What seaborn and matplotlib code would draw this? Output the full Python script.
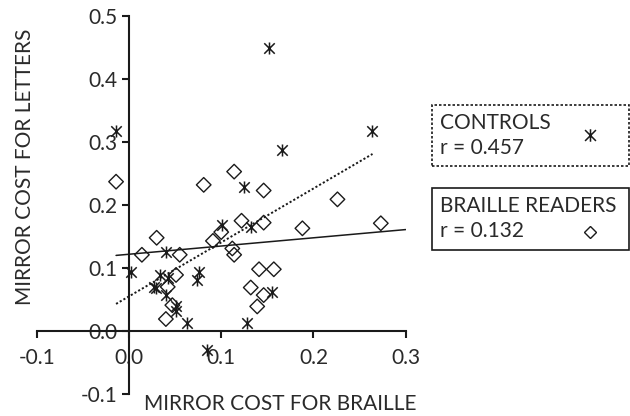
import numpy as np
import matplotlib
matplotlib.use("Agg")
import matplotlib.pyplot as plt
from matplotlib.path import Path
from matplotlib.patches import Rectangle
from matplotlib.lines import Line2D
import seaborn as sns
import pandas as pd

# DATA
ctrl_x = [0.152, -0.014, 0.263, 0.166, 0.125, 0.101, 0.132, 0.040, 0.002, 0.076,
          0.074, 0.034, 0.042, 0.027, 0.029, 0.040, 0.051, 0.051, 0.063, 0.128,
          0.155, 0.085]
ctrl_y = [0.450, 0.317, 0.317, 0.287, 0.229, 0.168, 0.165, 0.126, 0.094, 0.094,
          0.081, 0.089, 0.084, 0.070, 0.068, 0.057, 0.039, 0.031, 0.013, 0.013,
          0.062, -0.030]

braille_x = [-0.014, 0.014, 0.030, 0.055, 0.051, 0.042, 0.047, 0.040, 0.081, 0.091,
             0.100, 0.114, 0.112, 0.114, 0.122, 0.146, 0.146, 0.141, 0.157, 0.132,
             0.146, 0.139, 0.188, 0.226, 0.273]
braille_y = [0.237, 0.121, 0.148, 0.121, 0.089, 0.070, 0.041, 0.019, 0.232, 0.143,
             0.157, 0.253, 0.131, 0.121, 0.175, 0.223, 0.172, 0.098, 0.098, 0.069,
             0.057, 0.039, 0.163, 0.209, 0.171]

# fitted lines (end points)
ctrl_fit_x = [-0.014, 0.264]
ctrl_fit_y = [0.043, 0.281]
braille_fit_x = [-0.014, 0.300]
braille_fit_y = [0.120, 0.161]

ctrl_lines = ["CONTROLS", "r = 0.457"]
braille_lines = ["BRAILLE READERS", "r = 0.132"]
x_ticks = [-0.1, 0.0, 0.1, 0.2, 0.3]
y_ticks = [-0.1, 0.0, 0.1, 0.2, 0.3, 0.4, 0.5]

# STYLE
sns.set_theme(style="white")
plt.rcParams["font.family"] = ["Lato", "DejaVu Sans"]
INK = "#1a1a1a"
TXT = "#2a2a2a"
FS = 15

# asterisk marker: an X with a vertical bar
star = Path([(-1, -1), (1, 1), (-1, 1), (1, -1), (0, -1.15), (0, 1.15)],
            [Path.MOVETO, Path.LINETO, Path.MOVETO, Path.LINETO, Path.MOVETO, Path.LINETO])

W, H = 630, 416
fig = plt.figure(figsize=(W / 100, H / 100), dpi=100)
ax = fig.add_axes([0.0583, 0.0529, 0.5857, 0.9086])

df_c = pd.DataFrame({"x": ctrl_x, "y": ctrl_y})
df_b = pd.DataFrame({"x": braille_x, "y": braille_y})

sns.lineplot(x=ctrl_fit_x, y=ctrl_fit_y, ax=ax, color=INK, linestyle=(0, (1.1, 1.1)), lw=1.4)
sns.lineplot(x=braille_fit_x, y=braille_fit_y, ax=ax, color=INK, lw=1.1)

sns.scatterplot(data=df_b, x="x", y="y", ax=ax, marker="D", s=55,
                facecolor="none", edgecolor=INK, linewidth=1.0, zorder=3)
sns.scatterplot(data=df_c, x="x", y="y", ax=ax, marker=star, s=75,
                color=INK, edgecolor=INK, linewidth=1.1, zorder=3)

ax.set_xlim(-0.1, 0.3)
ax.set_ylim(-0.1, 0.5)
ax.set_xticks(x_ticks)
ax.set_yticks(y_ticks)
ax.set_xticklabels([f"{t:.1f}" for t in x_ticks])
ax.set_yticklabels([f"{t:.1f}" for t in y_ticks])
ax.set_xlabel("")
ax.set_ylabel("")

ax.spines["left"].set_position(("data", 0))
ax.spines["bottom"].set_position(("data", 0))
ax.spines["top"].set_visible(False)
ax.spines["right"].set_visible(False)
for s in ["left", "bottom"]:
    ax.spines[s].set_linewidth(1.5)
    ax.spines[s].set_color(INK)
ax.tick_params(axis="both", direction="out", length=5, width=1.5, color=INK,
               labelsize=FS, labelcolor=TXT)
ax.tick_params(axis="x", bottom=True, pad=7)
ax.tick_params(axis="y", left=True, pad=3)
ax.patch.set_alpha(0)

fig.text(416 / W, 1 - 404 / H, "MIRROR COST FOR BRAILLE", ha="right", va="center",
         fontsize=FS, color=TXT)
fig.text(25 / W, 1 - 167 / H, "MIRROR COST FOR LETTERS", ha="center", va="center",
         rotation=90, fontsize=FS, color=TXT)

# legend boxes drawn by hand (pixel positions from the reference)
def px(x, y):
    return x / W, 1 - y / H

def legend_box(top, bottom, lines, handle, hx, hy, dotted):
    x0, y0 = px(432, bottom)
    x1, y1 = px(629, top)
    rect = Rectangle((x0, y0), x1 - x0, y1 - y0, transform=fig.transFigure,
                     facecolor="white", edgecolor=INK, lw=1.2,
                     linestyle=(0, (1.5, 1.2)) if dotted else "-")
    fig.add_artist(rect)
    ty = [top + 18, top + 43]
    for t, yy in zip(lines, ty):
        fig.text(*px(440, yy), t, ha="left", va="center", fontsize=FS, color=TXT)
    handle.set_data([hx / W], [1 - hy / H])
    handle.set_transform(fig.transFigure)
    fig.add_artist(handle)

h_c = Line2D([], [], marker=star, linestyle="none", color=INK, markersize=9, markeredgewidth=1.1)
h_b = Line2D([], [], marker="D", linestyle="none", markerfacecolor="none",
             markeredgecolor=INK, markersize=6.5, markeredgewidth=1.0)
legend_box(105, 166, ctrl_lines, h_c, 590, 135, True)
legend_box(188, 250, braille_lines, h_b, 590, 232, False)

fig.savefig("out.png", dpi=100, facecolor="white")
